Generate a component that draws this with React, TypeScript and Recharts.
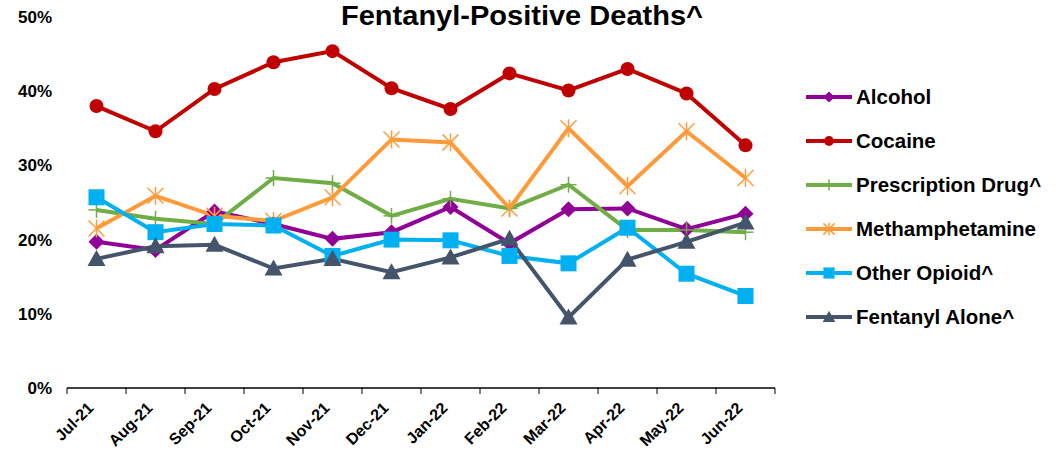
import React from "react";
import { LineChart, Line, XAxis, YAxis } from "recharts";

const months = ["Jul-21", "Aug-21", "Sep-21", "Oct-21", "Nov-21", "Dec-21", "Jan-22", "Feb-22", "Mar-22", "Apr-22", "May-22", "Jun-22"];
const alcohol = [19.7, 18.6, 23.8, 22.1, 20.1, 21.0, 24.4, 19.5, 24.1, 24.2, 21.4, 23.5];
const cocaine = [38.0, 34.6, 40.3, 43.9, 45.4, 40.4, 37.6, 42.4, 40.1, 43.0, 39.7, 32.7];
const prescription = [24.0, 22.8, 22.1, 28.3, 27.6, 23.2, 25.5, 24.2, 27.4, 21.3, 21.3, 21.0];
const meth = [21.5, 25.9, 23.2, 22.5, 25.7, 33.5, 33.1, 24.2, 35.0, 27.2, 34.6, 28.3];
const otherOpioid = [25.7, 21.0, 22.1, 21.9, 17.8, 20.0, 19.9, 17.8, 16.8, 21.6, 15.4, 12.4];
const fentanylAlone = [17.4, 19.1, 19.3, 16.1, 17.4, 15.6, 17.6, 20.1, 9.5, 17.3, 19.7, 22.3];
const yTicks = [0, 10, 20, 30, 40, 50];

const data = months.map((m, i) => ({
  month: m,
  alcohol: alcohol[i],
  cocaine: cocaine[i],
  prescription: prescription[i],
  meth: meth[i],
  otherOpioid: otherOpioid[i],
  fentanylAlone: fentanylAlone[i],
}));

const W = 1061;
const H = 453;
const M = { top: 17, right: 286, bottom: 0, left: 7 };
const Y_W = 60;
const X_H = 65;
const BAND = (W - M.left - M.right - Y_W) / months.length;
const FONT = "Arial, 'Liberation Sans', sans-serif";

type Shape = "diamond" | "circle" | "plus" | "star" | "square" | "triangle";

const series: { key: string; name: string; color: string; shape: Shape }[] = [
  { key: "alcohol", name: "Alcohol", color: "#910096", shape: "diamond" },
  { key: "cocaine", name: "Cocaine", color: "#C00000", shape: "circle" },
  { key: "prescription", name: "Prescription Drug^", color: "#70AD47", shape: "plus" },
  { key: "meth", name: "Methamphetamine", color: "#FF9A3A", shape: "star" },
  { key: "otherOpioid", name: "Other Opioid^", color: "#00B0F0", shape: "square" },
  { key: "fentanylAlone", name: "Fentanyl Alone^", color: "#44546A", shape: "triangle" },
];

function Marker({ cx, cy, shape, color, s = 1 }: { cx: number; cy: number; shape: Shape; color: string; s?: number }) {
  switch (shape) {
    case "diamond":
      return <path d={`M${cx},${cy - 8 * s}L${cx + 8 * s},${cy}L${cx},${cy + 8 * s}L${cx - 8 * s},${cy}Z`} fill={color} />;
    case "circle":
      return <circle cx={cx} cy={cy} r={7 * s} fill={color} />;
    case "plus":
      return (
        <g stroke={color} strokeWidth={1.5}>
          <line x1={cx} y1={cy - 8 * s} x2={cx} y2={cy + 8 * s} />
          <line x1={cx - 8 * s} y1={cy} x2={cx + 8 * s} y2={cy} />
        </g>
      );
    case "star":
      return (
        <g stroke={color} strokeWidth={1.5}>
          <line x1={cx} y1={cy - 9 * s} x2={cx} y2={cy + 9 * s} />
          <line x1={cx - 8 * s} y1={cy - 8 * s} x2={cx + 8 * s} y2={cy + 8 * s} />
          <line x1={cx - 8 * s} y1={cy + 8 * s} x2={cx + 8 * s} y2={cy - 8 * s} />
        </g>
      );
    case "square":
      return <rect x={cx - 8 * s} y={cy - 8 * s} width={16 * s} height={16 * s} fill={color} />;
    case "triangle":
      return <path d={`M${cx},${cy - 9 * s}L${cx + 9 * s},${cy + 7 * s}L${cx - 9 * s},${cy + 7 * s}Z`} fill={color} />;
  }
  return null;
}

const dotFor = (shape: Shape, color: string) => (props: any) => {
  const { cx, cy, index } = props;
  if (cx == null || cy == null) return <g key={index} />;
  return <Marker key={index} cx={cx} cy={cy} shape={shape} color={color} />;
};

function MonthTick(props: any) {
  const { x, y, payload, index } = props;
  const left = x - BAND / 2;
  return (
    <g>
      <line x1={left} y1={y - 8} x2={left} y2={y - 2} stroke="#000" strokeWidth={1} />
      {index === months.length - 1 && (
        <line x1={x + BAND / 2} y1={y - 8} x2={x + BAND / 2} y2={y - 2} stroke="#000" strokeWidth={1} />
      )}
      <text
        x={0}
        y={0}
        transform={`translate(${x - 2},${y + 13}) rotate(-45)`}
        textAnchor="end"
        fontSize={16}
        fontWeight="bold"
        fontFamily={FONT}
        fill="#000"
      >
        {payload.value}
      </text>
    </g>
  );
}

function LegendBox() {
  return (
    <div style={{ position: "absolute", left: 805, top: 75, fontFamily: FONT }}>
      {series.map((s) => (
        <div key={s.key} style={{ display: "flex", alignItems: "center", height: 44 }}>
          <svg width={48} height={20}>
            <line x1={1} y1={10} x2={47} y2={10} stroke={s.color} strokeWidth={4} />
            <Marker cx={24} cy={10} shape={s.shape} color={s.color} s={0.7} />
          </svg>
          <span style={{ fontSize: 20.5, fontWeight: "bold", color: "#000", marginLeft: 3 }}>{s.name}</span>
        </div>
      ))}
    </div>
  );
}

export default function App() {
  return (
    <div style={{ position: "absolute", left: 0, top: 0, width: W, height: H, background: "#fff" }}>
      <LineChart width={W} height={H} data={data} margin={M}>
        <text
          x={522}
          y={25}
          textAnchor="middle"
          fontSize={27}
          fontWeight="bold"
          fontFamily={FONT}
          textLength={362}
          lengthAdjust="spacingAndGlyphs"
          fill="#000"
        >
          Fentanyl-Positive Deaths^
        </text>
        <XAxis
          dataKey="month"
          interval={0}
          padding={{ left: BAND / 2, right: BAND / 2 }}
          axisLine={{ stroke: "#000", strokeWidth: 1.5 }}
          tickLine={false}
          tick={<MonthTick />}
          height={X_H}
        />
        <YAxis
          domain={[0, 50]}
          ticks={yTicks}
          width={Y_W}
          axisLine={false}
          tickLine={false}
          tickFormatter={(v: number) => `${v}%`}
          tick={{ fontSize: 17, fontWeight: "bold", fill: "#000", fontFamily: FONT }}
          tickMargin={9}
        />
        {series.map((s) => (
          <Line
            key={s.key}
            dataKey={s.key}
            name={s.name}
            stroke={s.color}
            strokeWidth={4}
            dot={dotFor(s.shape, s.color)}
            activeDot={false}
            isAnimationActive={false}
          />
        ))}
      </LineChart>
      <LegendBox />
    </div>
  );
}
